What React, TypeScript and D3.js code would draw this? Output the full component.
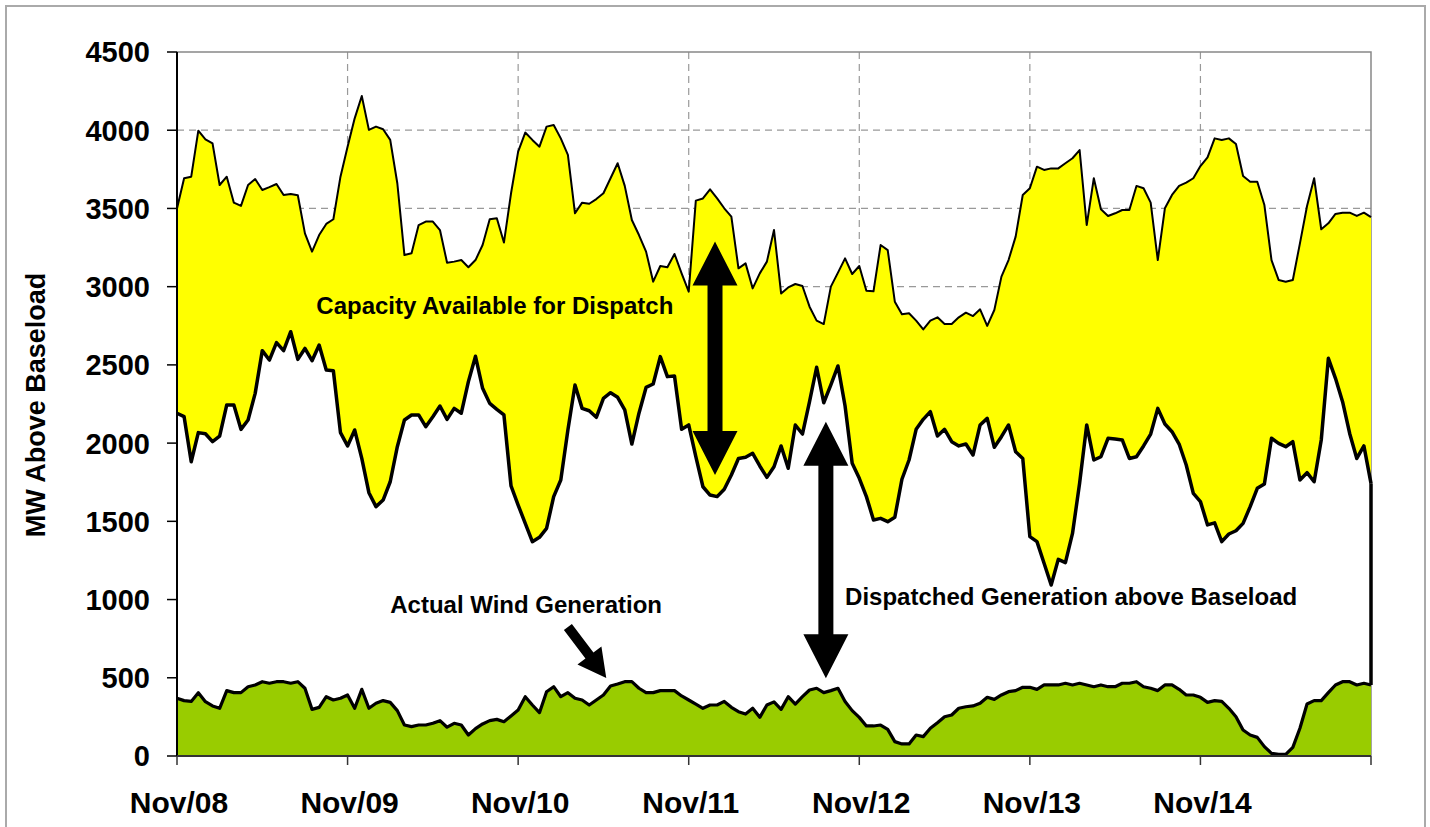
import React from 'react';
import * as d3 from 'd3';

// hourly values, Nov/08 00:00 .. Nov/15 00:00 (169 points)
const dayLabels = ['Nov/08', 'Nov/09', 'Nov/10', 'Nov/11', 'Nov/12', 'Nov/13', 'Nov/14'];
const yTicks = [0, 500, 1000, 1500, 2000, 2500, 3000, 3500, 4000, 4500];

// top of available capacity (MW above baseload)
const capacityTop = [
  3500, 3693, 3703, 3997, 3942, 3916, 3650, 3703, 3537, 3516, 3650, 3688, 3618, 3636, 3656, 3586,
  3593, 3584, 3341, 3224, 3330, 3401, 3431, 3703, 3895, 4076, 4219, 4002, 4023, 4006, 3938, 3661,
  3202, 3213, 3394, 3416, 3416, 3362, 3153, 3160, 3170, 3124, 3170, 3266, 3431, 3437, 3282, 3597,
  3863, 3985, 3938, 3895, 4023, 4033, 3948, 3842, 3469, 3537, 3530, 3560, 3597, 3693, 3789, 3644,
  3426, 3330, 3224, 3032, 3132, 3124, 3209, 3085, 2968, 3550, 3564, 3622, 3564, 3501, 3448, 3117,
  3149, 2989, 3085, 3160, 3362, 2957, 2995, 3017, 3004, 2872, 2783, 2761, 3000, 3090, 3181, 3081,
  3132, 2974, 2970, 3266, 3234, 2904, 2823, 2830, 2783, 2727, 2783, 2804, 2761, 2761, 2804, 2834,
  2812, 2855, 2749, 2851, 3064, 3170, 3320, 3586, 3629, 3767, 3746, 3756, 3756, 3789, 3821, 3873,
  3394, 3693, 3495, 3452, 3469, 3490, 3490, 3644, 3629, 3537, 3170, 3501, 3586, 3644, 3665, 3693,
  3771, 3827, 3948, 3938, 3948, 3912, 3707, 3671, 3671, 3522, 3170, 3043, 3032, 3043, 3277, 3516,
  3693, 3367, 3405, 3465, 3473, 3473, 3452, 3473, 3444,
];

// dispatched generation above baseload
const dispatched = [
  2191, 2169, 1881, 2067, 2060, 2009, 2045, 2244, 2244, 2088, 2148, 2318, 2591, 2531, 2642, 2591,
  2712, 2535, 2605, 2527, 2627, 2467, 2463, 2067, 1982, 2084, 1902, 1683, 1594, 1636, 1753, 1977,
  2148, 2180, 2180, 2105, 2169, 2237, 2152, 2222, 2191, 2393, 2555, 2350, 2254, 2216, 2180, 1726,
  1604, 1487, 1370, 1398, 1455, 1658, 1764, 2084, 2372, 2222, 2207, 2165, 2286, 2322, 2293, 2212,
  1994, 2191, 2356, 2378, 2553, 2425, 2429, 2088, 2116, 1913, 1721, 1668, 1658, 1705, 1796, 1902,
  1909, 1935, 1854, 1781, 1849, 1982, 1839, 2116, 2058, 2265, 2485, 2258, 2372, 2493, 2237, 1871,
  1775, 1658, 1509, 1519, 1498, 1526, 1769, 1892, 2088, 2152, 2201, 2045, 2088, 2009, 1982, 1994,
  1924, 2116, 2158, 1973, 2041, 2116, 1945, 1902, 1402, 1370, 1232, 1093, 1257, 1236, 1423, 1743,
  2116, 1892, 1913, 2031, 2026, 2020, 1902, 1913, 1982, 2058, 2222, 2122, 2073, 1994, 1860, 1679,
  1626, 1477, 1490, 1370, 1419, 1440, 1487, 1594, 1711, 1739, 2031, 1998, 1977, 2009, 1764, 1811,
  1753, 2020, 2542, 2414, 2265, 2062, 1902, 1982, 1743,
];

// actual wind generation
const wind = [
  369, 354, 349, 405, 347, 320, 305, 418, 405, 405, 443, 454, 475, 465, 475, 475,
  465, 475, 433, 298, 311, 379, 358, 369, 390, 305, 426, 305, 337, 354, 343, 290,
  198, 188, 198, 198, 209, 226, 184, 209, 198, 134, 175, 205, 226, 234, 219, 256,
  294, 379, 326, 277, 411, 443, 379, 405, 369, 358, 326, 358, 390, 447, 460, 475,
  475, 433, 405, 405, 418, 418, 418, 384, 358, 332, 305, 326, 326, 349, 311, 283,
  268, 305, 247, 326, 346, 298, 379, 332, 379, 422, 433, 405, 418, 433, 349, 290,
  247, 192, 192, 198, 170, 92, 77, 77, 134, 124, 177, 213, 251, 262, 305, 315,
  320, 337, 375, 362, 390, 411, 418, 439, 439, 426, 454, 454, 454, 465, 454, 465,
  454, 443, 454, 443, 443, 465, 465, 475, 443, 433, 418, 454, 454, 426, 390, 390,
  375, 343, 354, 349, 305, 251, 166, 134, 119, 60, 17, 10, 10, 55, 177, 332,
  354, 354, 405, 454, 475, 475, 454, 465, 454,
];

const W = 1430;
const H = 827;
const plot = { left: 177, right: 1371, top: 52, bottom: 756 };
const font = '"Liberation Sans", Arial, sans-serif';

const x = d3.scaleLinear().domain([0, 168]).range([plot.left, plot.right]);
const y = d3.scaleLinear().domain([0, 4500]).range([plot.bottom, plot.top]);

const hours = d3.range(capacityTop.length);
const dayTicks = dayLabels.map((_, i) => i * 24);

const areaTo = (vals: number[]) =>
  d3.area<number>().x((i) => x(i)).y0(y(0)).y1((i) => y(vals[i]))(hours) || '';
const lineOf = (vals: number[]) =>
  d3.line<number>().x((i) => x(i)).y((i) => y(vals[i]))(hours) || '';

// arrow polygon from (x1,y1) to tip (x2,y2)
function arrowPath(x1: number, y1: number, x2: number, y2: number, shaft: number, headW: number, headL: number, both = false) {
  const dx = x2 - x1;
  const dy = y2 - y1;
  const len = Math.hypot(dx, dy);
  const ux = dx / len;
  const uy = dy / len;
  const px = -uy;
  const py = ux;
  const pt = (a: number, b: number) => `${x1 + ux * a + px * b},${y1 + uy * a + py * b}`;
  const s = shaft / 2;
  const h = headW / 2;
  const startL = both ? headL : 0;
  const pts = [
    pt(startL, s),
    pt(len - headL, s),
    pt(len - headL, h),
    pt(len, 0),
    pt(len - headL, -h),
    pt(len - headL, -s),
    pt(startL, -s),
  ];
  if (both) {
    pts.push(pt(headL, -h), pt(0, 0), pt(headL, h));
  }
  return `M${pts.join('L')}Z`;
}

const App = () => {
  const last = hours.length - 1;
  return (
    <svg width={W} height={H} style={{ position: 'absolute', left: 0, top: 0, background: '#fff' }}>
      <rect x={6} y={6} width={1419} height={H + 10} fill='#fff' stroke='#aaa' strokeWidth={2} />

      {/* grid */}
      <g stroke='#999' strokeWidth={1.2} strokeDasharray='7,5'>
        {yTicks.filter((t) => t > 0 && t < 4500).map((t) => (
          <line key={t} x1={plot.left} x2={plot.right} y1={y(t)} y2={y(t)} />
        ))}
        {dayTicks.slice(1).map((t) => (
          <line key={t} x1={x(t)} x2={x(t)} y1={plot.top} y2={plot.bottom} />
        ))}
      </g>
      <path d={`M${plot.left},${plot.top}H${plot.right}V${plot.bottom}`} fill='none' stroke='#888' strokeWidth={1.5} />

      {/* areas */}
      <path d={areaTo(capacityTop)} fill='#ffff00' />
      <path d={areaTo(dispatched)} fill='#fff' />
      <path d={areaTo(wind)} fill='#99cc00' />

      {/* lines */}
      <path d={lineOf(capacityTop)} fill='none' stroke='#000' strokeWidth={2} strokeLinejoin='round' />
      <path d={lineOf(dispatched)} fill='none' stroke='#000' strokeWidth={3.5} strokeLinejoin='round' />
      <line x1={x(last)} x2={x(last)} y1={y(dispatched[last])} y2={y(wind[last])} stroke='#000' strokeWidth={3.5} />
      <path d={lineOf(wind)} fill='none' stroke='#000' strokeWidth={3.2} strokeLinejoin='round' />

      {/* axes */}
      <line x1={plot.left} x2={plot.left} y1={plot.top} y2={plot.bottom} stroke='#000' strokeWidth={2} />
      <line x1={plot.left} x2={plot.right} y1={plot.bottom} y2={plot.bottom} stroke='#333' strokeWidth={2} />
      {yTicks.map((t) => (
        <g key={t}>
          <line x1={plot.left - 10} x2={plot.left} y1={y(t)} y2={y(t)} stroke='#000' strokeWidth={1.5} />
          <text x={150} y={y(t)} dy='0.36em' textAnchor='end' fontFamily={font} fontWeight='bold' fontSize={29}>
            {t}
          </text>
        </g>
      ))}
      {dayTicks.concat([168]).map((t) => (
        <line key={t} x1={x(t)} x2={x(t)} y1={plot.bottom} y2={plot.bottom + 9} stroke='#333' strokeWidth={1.5} />
      ))}
      {dayLabels.map((d, i) => (
        <text key={d} x={x(dayTicks[i]) + 2} y={813} textAnchor='middle' fontFamily={font} fontWeight='bold' fontSize={30}>
          {d}
        </text>
      ))}
      <text
        transform={`translate(45,${(plot.top + plot.bottom) / 2 + 1}) rotate(-90)`}
        textAnchor='middle'
        fontFamily={font}
        fontWeight='bold'
        fontSize={27}>
        MW Above Baseload
      </text>

      {/* annotations */}
      <path d={arrowPath(x(75.7), y(3288), x(75.7), y(1796), 15, 45, 44, true)} fill='#000' />
      <path d={arrowPath(x(91.3), y(2137), x(91.3), y(497), 15, 45, 44, true)} fill='#000' />
      <path d={arrowPath(x(55.0), y(825), x(60.4), y(499), 10, 30, 28)} fill='#000' />

      <g fontFamily={font} fontWeight='bold' fontSize={24} fill='#000'>
        <text x={x(19.6)} y={314}>Capacity Available for Dispatch</text>
        <text x={x(30.0)} y={613}>Actual Wind Generation</text>
        <text x={x(94.0)} y={605}>Dispatched Generation above Baseload</text>
      </g>
    </svg>
  );
};

export default App;
